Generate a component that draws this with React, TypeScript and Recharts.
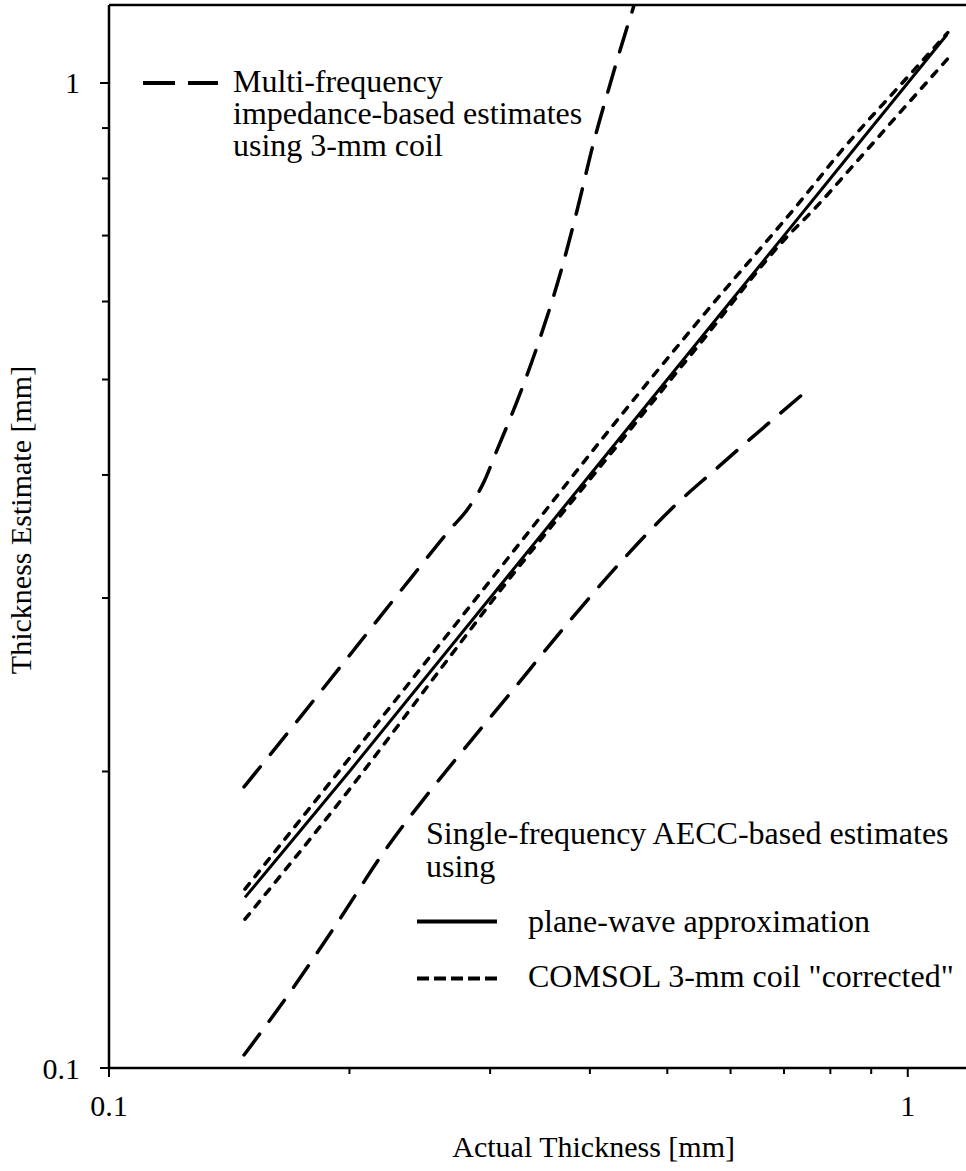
import React from "react";
import { LineChart, Line, XAxis, YAxis, ReferenceLine, Legend, Label } from "recharts";

// Axis ticks (log decades with minor ticks)
const xTicks = [0.1, 0.2, 0.3, 0.4, 0.5, 0.6, 0.7, 0.8, 0.9, 1];
const yTicks = [0.1, 0.2, 0.3, 0.4, 0.5, 0.6, 0.7, 0.8, 0.9, 1];
const majorTickLabels: Record<string, string> = { "0.1": "0.1", "1": "1" };

// Single-frequency AECC-based estimates, plane-wave approximation
const planeWaveX = [0.148, 0.2, 0.3, 0.4, 0.5, 0.6, 0.7, 0.8, 0.9, 1.0, 1.12];
const planeWaveY = [0.149, 0.2, 0.3, 0.4, 0.5, 0.6, 0.7, 0.8, 0.9, 1.0, 1.12];

// Single-frequency AECC-based estimates, COMSOL 3-mm coil "corrected"
const comsolUpperX = [0.148, 0.1892, 0.2675, 0.3468, 0.4124, 0.5503, 0.7449, 0.824, 0.98, 1.1223];
const comsolUpperY = [0.1519, 0.195, 0.2777, 0.3625, 0.4331, 0.5767, 0.7697, 0.8515, 0.9962, 1.1249];
const comsolLowerX = [0.148, 0.1987, 0.2675, 0.309, 0.4124, 0.5503, 0.7073, 0.7669, 0.8483, 0.98, 1.1223];
const comsolLowerY = [0.1416, 0.1905, 0.2619, 0.3054, 0.4081, 0.5446, 0.6991, 0.7474, 0.8191, 0.9352, 1.0587];

// Multi-frequency impedance-based estimates using 3-mm coil
const multiUpperX = [0.1476, 0.175, 0.205, 0.24, 0.268, 0.281, 0.294, 0.3061, 0.3273, 0.3468, 0.3675, 0.3856, 0.4042, 0.4244, 0.4455, 0.4537, 0.462];
const multiUpperY = [0.1929, 0.229, 0.269, 0.316, 0.353, 0.369, 0.392, 0.4241, 0.4846, 0.5523, 0.6416, 0.7431, 0.8693, 1.0, 1.1407, 1.196, 1.27];
const multiLowerX = [0.1476, 0.1676, 0.1931, 0.2218, 0.2547, 0.2777, 0.3143, 0.3728, 0.4407, 0.5164, 0.5696, 0.6266, 0.7342];
const multiLowerY = [0.1031, 0.1186, 0.1404, 0.1665, 0.1929, 0.2103, 0.2374, 0.281, 0.3287, 0.3754, 0.4028, 0.431, 0.4811];

// Text
const multiLegendLines = ["Multi-frequency", "impedance-based estimates", "using 3-mm coil"];
const singleLegendHeading = ["Single-frequency AECC-based estimates", "using"];
const singleLegendItems = ["plane-wave approximation", 'COMSOL 3-mm coil "corrected"'];
const xTitle = "Actual Thickness [mm]";
const yTitle = "Thickness Estimate [mm]";

const FONT = '"Liberation Serif", "Times New Roman", Times, serif';

const zip = (xs: number[], ys: number[]) => xs.map((x, i) => ({ x, y: ys[i] }));

const planeWave = zip(planeWaveX, planeWaveY);
const comsolUpper = zip(comsolUpperX, comsolUpperY);
const comsolLower = zip(comsolLowerX, comsolLowerY);
const multiUpper = zip(multiUpperX, multiUpperY);
const multiLower = zip(multiLowerX, multiLowerY);

const isMajor = (v: number) => majorTickLabels[String(v)] !== undefined;

const XTick = (props: any) => {
  const { x, y, payload } = props;
  const v = payload.value as number;
  const major = isMajor(v);
  return (
    <g>
      <line x1={x} y1={y} x2={x} y2={y + (major ? 9 : 6)} stroke="#000" strokeWidth={2} />
      {major && (
        <text x={x} y={y + 48} textAnchor="middle" fontSize={30} fontFamily={FONT} fill="#000">
          {majorTickLabels[String(v)]}
        </text>
      )}
    </g>
  );
};

const YTick = (props: any) => {
  const { x, y, payload } = props;
  const v = payload.value as number;
  const major = isMajor(v);
  return (
    <g>
      <line x1={x - (major ? 9 : 7)} y1={y} x2={x} y2={y} stroke="#000" strokeWidth={2} />
      {major && (
        <text x={x - 29} y={y + 10.5} textAnchor="end" fontSize={30} fontFamily={FONT} fill="#000">
          {majorTickLabels[String(v)]}
        </text>
      )}
    </g>
  );
};

const XTitle = () => (
  <text x={735} y={1157} textAnchor="end" fontSize={30} fontFamily={FONT} fill="#000">
    {xTitle}
  </text>
);

const YTitle = () => (
  <text
    x={0}
    y={0}
    transform="translate(31 520) rotate(-90)"
    textAnchor="middle"
    fontSize={30}
    fontFamily={FONT}
    fill="#000"
  >
    {yTitle}
  </text>
);

const LegendArt = () => (
  <svg width={971} height={1171} style={{ position: "absolute", left: 0, top: 0, pointerEvents: "none" }}>
    <g stroke="#000" strokeWidth={4}>
      <line x1={143} y1={83} x2={175} y2={83} />
      <line x1={188} y1={83} x2={218} y2={83} />
      <line x1={417} y1={921.5} x2={497} y2={921.5} />
      <line x1={417} y1={978.5} x2={497} y2={978.5} strokeDasharray="12 5" />
    </g>
    <g fontSize={32} fontFamily={FONT} fill="#000">
      {multiLegendLines.map((t, i) => (
        <text key={t} x={233} y={92 + i * 32}>
          {t}
        </text>
      ))}
      {singleLegendHeading.map((t, i) => (
        <text key={t} x={426} y={844 + i * 33}>
          {t}
        </text>
      ))}
      {singleLegendItems.map((t, i) => (
        <text key={t} x={528} y={932 + i * 55}>
          {t}
        </text>
      ))}
    </g>
  </svg>
);

export default function App() {
  return (
    <div
      style={{
        position: "absolute",
        left: 0,
        top: 0,
        width: 966,
        height: 1171,
        overflow: "hidden",
        background: "#fff",
      }}
    >
      <LineChart width={971} height={1171} margin={{ top: 5, right: 0, bottom: 0, left: 0 }}>
        <XAxis
          dataKey="x"
          type="number"
          scale="log"
          domain={[0.1, 1.2]}
          allowDataOverflow
          ticks={xTicks}
          interval={0}
          height={103}
          tickSize={0}
          tickMargin={0}
          tickLine={false}
          tick={<XTick />}
          axisLine={{ stroke: "#000", strokeWidth: 2.5 }}
        >
          <Label content={<XTitle />} />
        </XAxis>
        <YAxis
          dataKey="y"
          type="number"
          scale="log"
          domain={[0.1, 1.2]}
          allowDataOverflow
          ticks={yTicks}
          interval={0}
          width={109}
          tickSize={0}
          tickMargin={0}
          tickLine={false}
          tick={<YTick />}
          axisLine={{ stroke: "#000", strokeWidth: 2.5 }}
        >
          <Label content={<YTitle />} />
        </YAxis>
        <ReferenceLine y={1.2} stroke="#000" strokeWidth={2.5} />
        <Line
          data={multiUpper}
          dataKey="y"
          type="monotone"
          stroke="#000"
          strokeWidth={3.5}
          strokeDasharray="26 16"
          strokeLinecap="round"
          dot={false}
          isAnimationActive={false}
        />
        <Line
          data={multiLower}
          dataKey="y"
          type="monotone"
          stroke="#000"
          strokeWidth={3.5}
          strokeDasharray="26 16"
          strokeLinecap="round"
          dot={false}
          isAnimationActive={false}
        />
        <Line
          data={comsolUpper}
          dataKey="y"
          type="monotone"
          stroke="#000"
          strokeWidth={3.5}
          strokeDasharray="7 9"
          strokeLinecap="round"
          dot={false}
          isAnimationActive={false}
        />
        <Line
          data={comsolLower}
          dataKey="y"
          type="monotone"
          stroke="#000"
          strokeWidth={3.5}
          strokeDasharray="7 9"
          strokeLinecap="round"
          dot={false}
          isAnimationActive={false}
        />
        <Line
          data={planeWave}
          dataKey="y"
          type="linear"
          stroke="#000"
          strokeWidth={3}
          dot={false}
          isAnimationActive={false}
        />
        <Legend
          verticalAlign="middle"
          content={<LegendArt />}
          wrapperStyle={{ left: 0, top: 0, width: 971, height: 1171, pointerEvents: "none" }}
        />
      </LineChart>
    </div>
  );
}
